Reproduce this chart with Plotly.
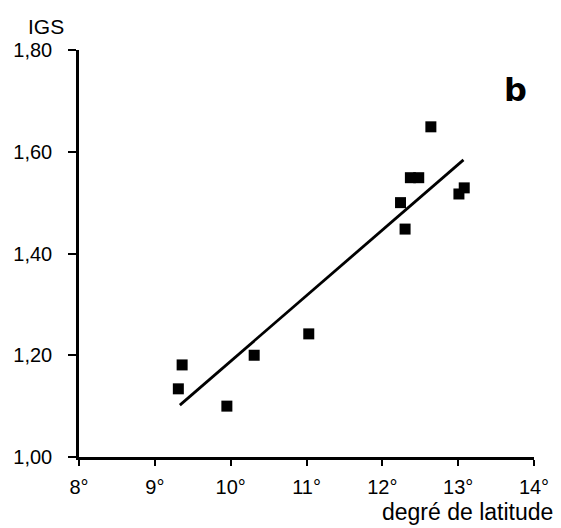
import plotly.graph_objects as go

# Data
latitude = [9.31, 9.36, 9.95, 10.31, 11.03, 12.24, 12.30, 12.37, 12.48, 12.64, 13.01, 13.08]
igs = [1.134, 1.181, 1.100, 1.200, 1.242, 1.500, 1.448, 1.549, 1.549, 1.649, 1.517, 1.529]
fit_x = [9.33, 13.07]
fit_y = [1.102, 1.584]

x_tickvals = [8, 9, 10, 11, 12, 13, 14]
x_ticktext = ["8°", "9°", "10°", "11°", "12°", "13°", "14°"]
y_tickvals = [1.0, 1.2, 1.4, 1.6, 1.8]
y_ticktext = ["1,00", "1,20", "1,40", "1,60", "1,80"]

FAM = "Liberation Sans, Arial, sans-serif"
font = dict(family=FAM, size=20, color="black")

fig = go.Figure()
fig.add_trace(go.Scatter(x=fit_x, y=fit_y, mode="lines",
                         line=dict(color="black", width=2.8), showlegend=False))
fig.add_trace(go.Scatter(x=latitude, y=igs, mode="markers",
                         marker=dict(symbol="square", size=11, color="black"),
                         showlegend=False))

fig.update_layout(
    width=561, height=528,
    margin=dict(l=79, r=23, t=50, b=71),
    paper_bgcolor="white", plot_bgcolor="white",
    font=font,
    xaxis=dict(range=[8, 14], tickvals=x_tickvals, ticktext=x_ticktext,
               showgrid=False, zeroline=False, showline=True, linecolor="black",
               linewidth=2.5, ticks="outside", ticklen=6, tickwidth=1.5,
               tickcolor="black", tickfont=font, ticklabelstandoff=4),
    yaxis=dict(range=[1.0, 1.8], tickvals=y_tickvals, ticktext=y_ticktext,
               showgrid=False, zeroline=False, showline=True, linecolor="black",
               linewidth=2.5, ticks="outside", ticklen=8, tickwidth=1.5,
               tickcolor="black", tickfont=font, ticklabelstandoff=12),
    annotations=[
        dict(text="IGS", xref="paper", yref="paper", x=-0.072, y=1.0,
             yshift=24, xanchor="center", yanchor="middle", showarrow=False,
             font=dict(family=FAM, size=21, color="black")),
        dict(text="<b>b</b>", xref="x", yref="y", x=13.76, y=1.722,
             xanchor="center", yanchor="middle", showarrow=False,
             font=dict(family="DejaVu Sans, sans-serif", size=32, color="black")),
        dict(text="degré de latitude", xref="paper", yref="paper", x=1.0, y=0,
             xshift=21, yshift=-55, xanchor="right", yanchor="middle", showarrow=False,
             font=dict(family=FAM, size=23, color="black")),
    ],
)

fig.write_html("out.html")
